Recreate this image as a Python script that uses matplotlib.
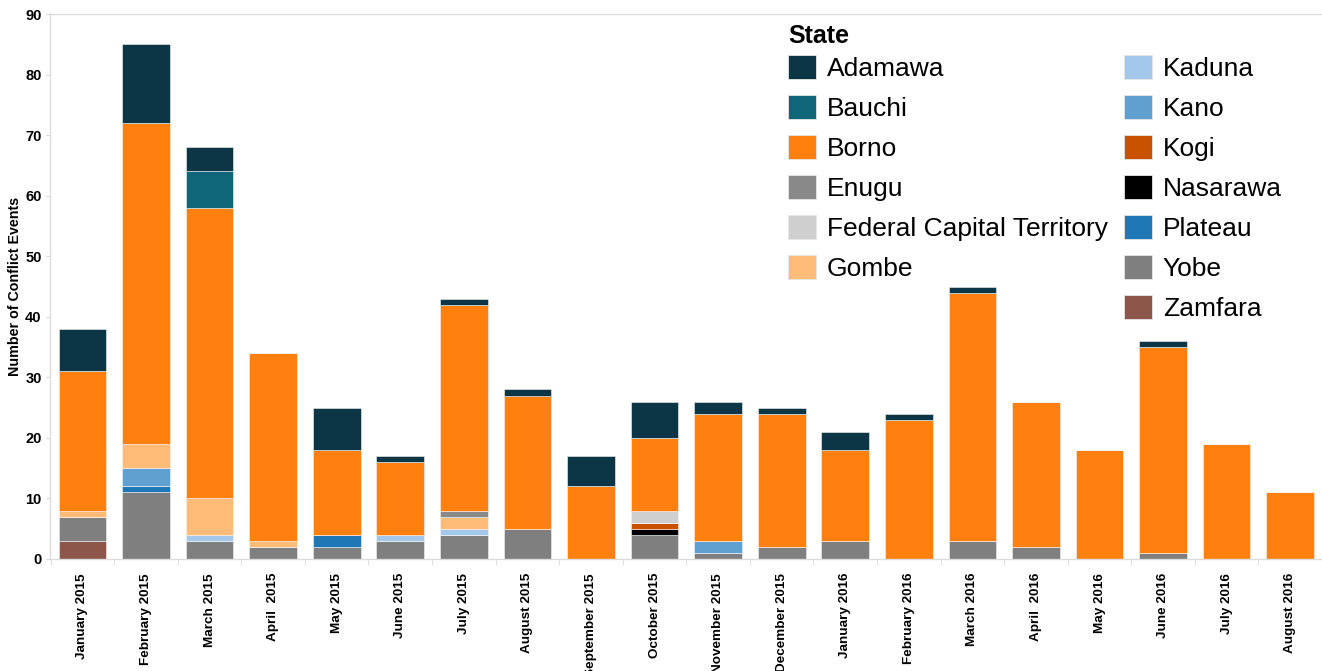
import matplotlib
matplotlib.use("Agg")
import matplotlib.pyplot as plt
import matplotlib.patches as mpatches
import numpy as np

months = ["January 2015", "February 2015", "March 2015", "April  2015", "May 2015",
          "June 2015", "July 2015", "August 2015", "September 2015", "October 2015",
          "November 2015", "December 2015", "January 2016", "February 2016",
          "March 2016", "April  2016", "May 2016", "June 2016", "July 2016", "August 2016"]

# values per state (bottom of stack first)
zamfara  = [3, 0, 0, 0, 0, 0, 0, 0, 0, 0, 0, 0, 0, 0, 0, 0, 0, 0, 0, 0]
yobe     = [4, 11, 3, 2, 2, 3, 4, 5, 0, 4, 1, 2, 3, 0, 3, 2, 0, 1, 0, 0]
plateau  = [0, 1, 0, 0, 2, 0, 0, 0, 0, 0, 0, 0, 0, 0, 0, 0, 0, 0, 0, 0]
nasarawa = [0, 0, 0, 0, 0, 0, 0, 0, 0, 1, 0, 0, 0, 0, 0, 0, 0, 0, 0, 0]
kogi     = [0, 0, 0, 0, 0, 0, 0, 0, 0, 1, 0, 0, 0, 0, 0, 0, 0, 0, 0, 0]
kano     = [0, 3, 0, 0, 0, 0, 0, 0, 0, 0, 2, 0, 0, 0, 0, 0, 0, 0, 0, 0]
kaduna   = [0, 0, 1, 0, 0, 1, 1, 0, 0, 0, 0, 0, 0, 0, 0, 0, 0, 0, 0, 0]
gombe    = [1, 4, 6, 1, 0, 0, 2, 0, 0, 0, 0, 0, 0, 0, 0, 0, 0, 0, 0, 0]
fct      = [0, 0, 0, 0, 0, 0, 0, 0, 0, 2, 0, 0, 0, 0, 0, 0, 0, 0, 0, 0]
enugu    = [0, 0, 0, 0, 0, 0, 1, 0, 0, 0, 0, 0, 0, 0, 0, 0, 0, 0, 0, 0]
borno    = [23, 53, 48, 31, 14, 12, 34, 22, 12, 12, 21, 22, 15, 23, 41, 24, 18, 34, 19, 11]
bauchi   = [0, 0, 6, 0, 0, 0, 0, 0, 0, 0, 0, 0, 0, 0, 0, 0, 0, 0, 0, 0]
adamawa  = [7, 13, 4, 0, 7, 1, 1, 1, 5, 6, 2, 1, 3, 1, 1, 0, 0, 1, 0, 0]

legend_states = ["Adamawa", "Bauchi", "Borno", "Enugu", "Federal Capital Territory", "Gombe",
                 "Kaduna", "Kano", "Kogi", "Nasarawa", "Plateau", "Yobe", "Zamfara"]
colors = {
    "Adamawa": "#0c3646", "Bauchi": "#0f6678", "Borno": "#ff800e", "Enugu": "#898989",
    "Federal Capital Territory": "#cfcfcf", "Gombe": "#ffbc79", "Kaduna": "#a3c8ec",
    "Kano": "#5fa0d0", "Kogi": "#c85200", "Nasarawa": "#000000", "Plateau": "#2077b5",
    "Yobe": "#7f7f7f", "Zamfara": "#8c564b",
}
stack = [("Zamfara", zamfara), ("Yobe", yobe), ("Plateau", plateau), ("Nasarawa", nasarawa),
         ("Kogi", kogi), ("Kano", kano), ("Kaduna", kaduna), ("Gombe", gombe),
         ("Federal Capital Territory", fct), ("Enugu", enugu), ("Borno", borno),
         ("Bauchi", bauchi), ("Adamawa", adamawa)]

plt.rcParams['font.family'] = ['Liberation Sans', 'DejaVu Sans']

W, H = 1322, 671
fig = plt.figure(figsize=(W / 100, H / 100), dpi=100)
ax = fig.add_axes([50 / W, (H - 559) / H, 1 - 50 / W, (559 - 14) / H])

x = np.arange(len(months))
bottom = np.zeros(len(months))
for name, vals in stack:
    v = np.array(vals, dtype=float)
    ax.bar(x, v, 0.75, bottom=bottom, color=colors[name], edgecolor="#f4f4f4",
           linewidth=0.4)
    bottom += v

ax.set_xlim(-0.51, 19.33)
ax.set_ylim(0, 90)
ax.set_yticks(range(0, 91, 10))
ax.set_yticklabels([str(v) for v in range(0, 91, 10)], fontsize=10.5, fontweight="bold")
ax.set_xticks(x)
ax.set_xticklabels(months, rotation=90, fontsize=9.7, fontweight="bold", va="top", ha="center")
ax.set_xticks(np.arange(len(months) + 1) - 0.5, minor=True)
ax.tick_params(axis="x", which="major", length=0, pad=10)
ax.tick_params(axis="x", which="minor", length=4, color="#d9d9d9")
ax.tick_params(axis="y", length=3, color="#d9d9d9", pad=3)

for s in ["left", "bottom", "top"]:
    ax.spines[s].set_color("#dcdcdc")
    ax.spines[s].set_linewidth(1.0)
ax.spines["right"].set_visible(False)

ax.set_ylabel("Number of Conflict Events", fontsize=10.3, fontweight="bold")
ax.yaxis.set_label_coords(-28 / (W - 50), 0.5)

handles = [mpatches.Patch(facecolor=colors[s], edgecolor="#e6e6e6", linewidth=0.6)
           for s in legend_states]
labels = list(legend_states)
# blank slot so the first column holds six entries
handles.insert(6, mpatches.Patch(facecolor="none", edgecolor="none"))
labels.insert(6, "")

leg = ax.legend(handles, labels, ncol=2, loc="upper left",
                bbox_to_anchor=(788 / W, 1 - 24 / H), bbox_transform=fig.transFigure,
                frameon=False, title="State", alignment="left",
                title_fontproperties={"weight": "bold", "size": 18},
                prop={"size": 19}, borderpad=0, borderaxespad=0,
                handlelength=1.05, handleheight=1.05, handletextpad=0.42,
                labelspacing=0.52, columnspacing=0.62)
leg._legend_box.sep = 5

fig.savefig("out.png", dpi=100)
